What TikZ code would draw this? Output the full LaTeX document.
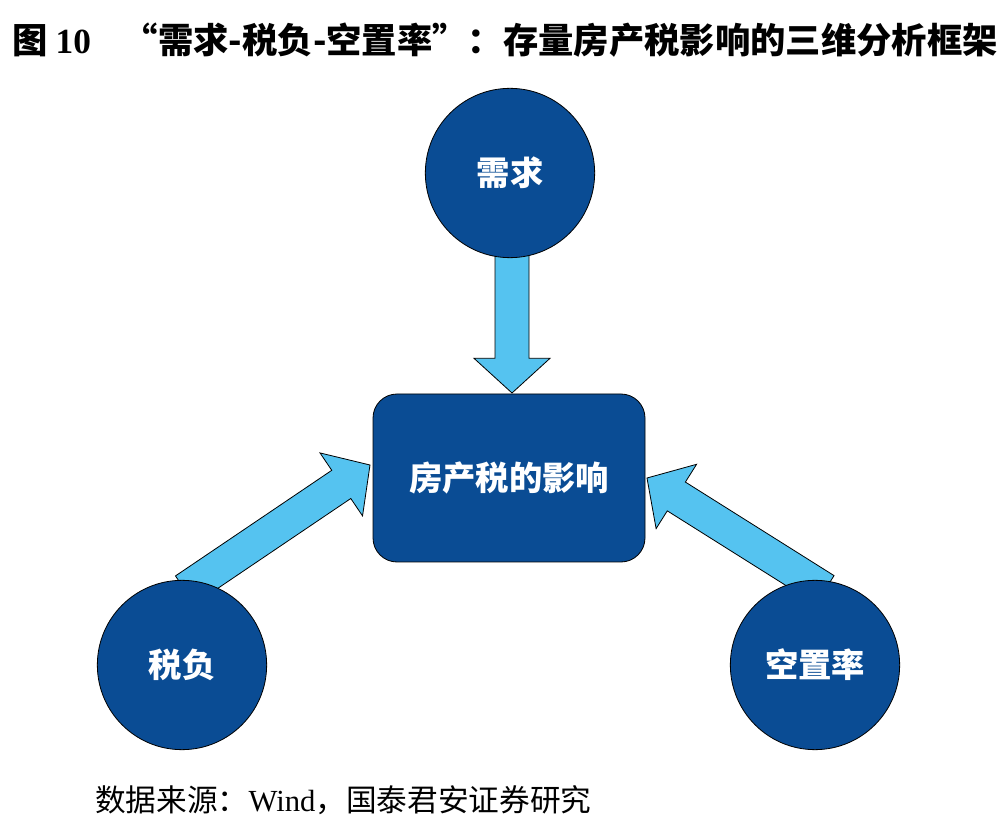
\documentclass[tikz,border=0pt]{standalone}
\usepackage{fontspec}
\setmainfont{Liberation Serif}
\newfontfamily\cjk{Noto Sans CJK SC}
\usetikzlibrary{calc}
\definecolor{dblue}{HTML}{0A4C94}
\definecolor{lblue}{HTML}{55C3F0}
\tikzset{
 bub/.style={circle,fill=dblue,draw=black,line width=0.6pt,minimum size=127pt,inner sep=0pt,text=white,font=\cjk\bfseries\fontsize{25}{25}\selectfont},
 box/.style={rounded corners=18pt,fill=dblue,draw=black,line width=0.6pt,minimum width=204pt,minimum height=126pt,text=white,font=\cjk\bfseries\fontsize{25}{25}\selectfont},
 arr/.style={fill=lblue,draw=black,line width=0.6pt}
}
\newcommand{\fatarrow}[2]{%
 \draw[arr] ($(#1)!12.75pt!90:(#2)$) -- ($($(#2)!26pt!(#1)$)!12.75pt!-90:(#1)$) -- ($($(#2)!26pt!(#1)$)!28.5pt!-90:(#1)$) -- (#2) -- ($($(#2)!26pt!(#1)$)!28.5pt!90:(#1)$) -- ($($(#2)!26pt!(#1)$)!12.75pt!90:(#1)$) -- ($(#1)!12.75pt!-90:(#2)$) -- cycle;}
\begin{document}
\begin{tikzpicture}[x=0.75pt,y=-0.75pt]
\useasboundingbox (0,0) rectangle (1008,834);
\node[anchor=west,inner sep=0pt,font=\cjk\bfseries\fontsize{26.5}{26.5}\selectfont] (title) at (12,40) {图 {\rmfamily\bfseries 10}\hspace{0.9em}“需求-税负-空置率”：存量房产税影响的三维分析框架};
\coordinate (t1) at (512,250); \coordinate (p1) at (512,393);
\coordinate (t2) at (185,590); \coordinate (p2) at (370,465);
\coordinate (t3) at (825,590); \coordinate (p3) at (647,478);
\fatarrow{t1}{p1}
\fatarrow{t2}{p2}
\fatarrow{t3}{p3}
\node[bub] (xq) at (510,173) {需求};
\node[bub] (sf) at (182,665) {税负};
\node[bub] (kz) at (815,665) {空置率};
\node[box] (fc) at (509,478) {房产税的影响};
\node[anchor=west,inner sep=0pt,font=\cjk\fontsize{23}{23}\selectfont] (src) at (95,800) {数据来源：{\rmfamily Wind}，国泰君安证券研究};
\end{tikzpicture}
\end{document}
